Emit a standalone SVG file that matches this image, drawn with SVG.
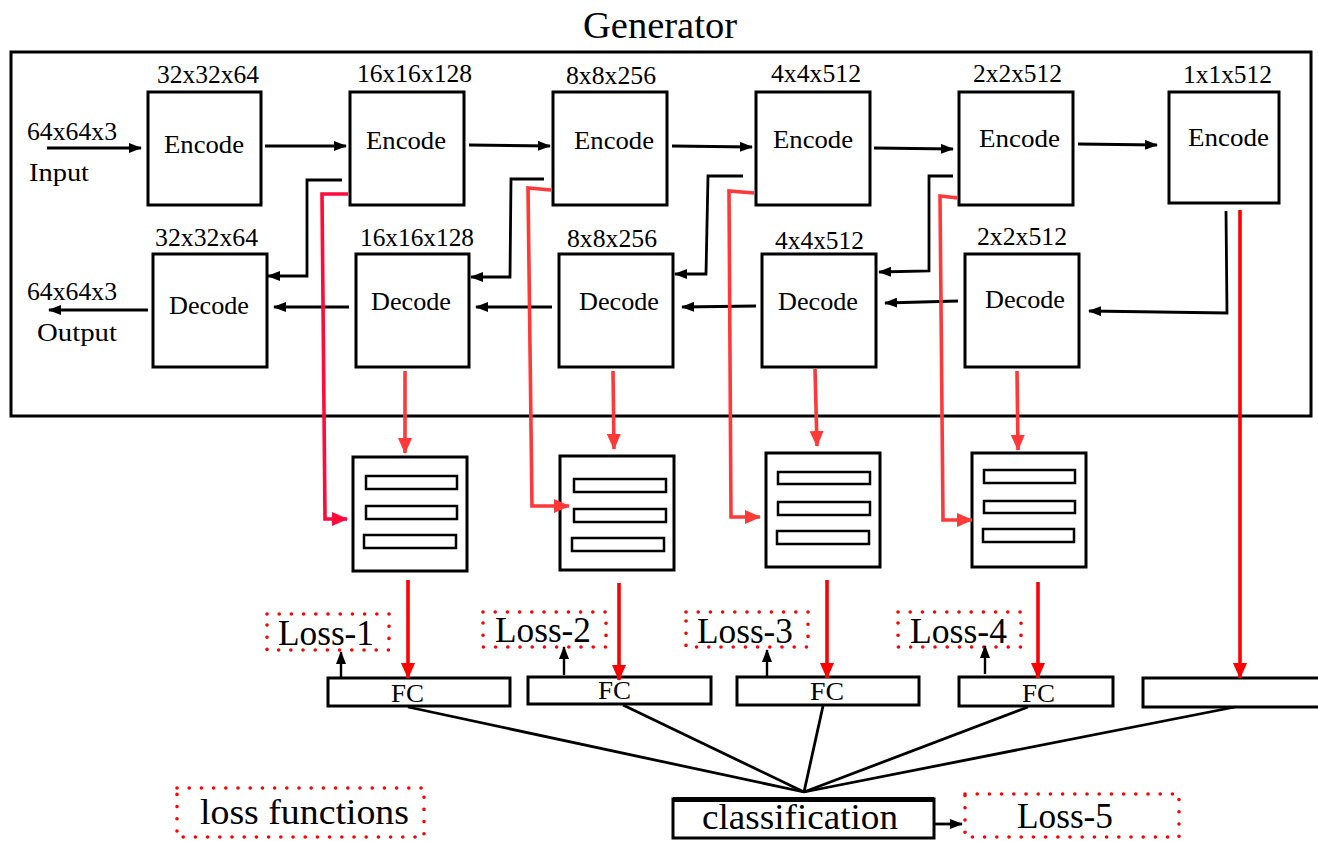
<svg xmlns="http://www.w3.org/2000/svg" width="1318" height="841" viewBox="0 0 1318 841">
<style>
text{font-family:"Liberation Serif","Times New Roman",serif;fill:#000}
.t25{font-size:25px}
.t34{font-size:35px}
.box{fill:#fff;stroke:#000;stroke-width:3}
.bar{fill:#fff;stroke:#000;stroke-width:2.5}
.dot{fill:none;stroke:#ff0000;stroke-width:3.6;stroke-dasharray:0 12.2;stroke-linecap:round}
.ln{fill:none;stroke:#000;stroke-width:2.8}
.lt{fill:none;stroke:#000;stroke-width:2.4}
.rA{fill:none;stroke:#ff0a3a;stroke-width:3.6}
.rB{fill:none;stroke:#ff3838;stroke-width:3.6}
.rC{fill:none;stroke:#ff0000;stroke-width:3.6}
</style>
<defs>
<marker id="ak" markerUnits="userSpaceOnUse" markerWidth="13" markerHeight="10" refX="12" refY="5" orient="auto"><path d="M0,0 L13,5 L0,10 z" fill="#000"/></marker>
<marker id="mA" markerUnits="userSpaceOnUse" markerWidth="16" markerHeight="14" refX="15" refY="7" orient="auto"><path d="M0,0 L16,7 L0,14 z" fill="#ff0a3a"/></marker>
<marker id="mB" markerUnits="userSpaceOnUse" markerWidth="16" markerHeight="14" refX="15" refY="7" orient="auto"><path d="M0,0 L16,7 L0,14 z" fill="#ff3838"/></marker>
<marker id="mC" markerUnits="userSpaceOnUse" markerWidth="16" markerHeight="14" refX="15" refY="7" orient="auto"><path d="M0,0 L16,7 L0,14 z" fill="#ff0000"/></marker>
</defs>
<rect width="1318" height="841" fill="#fff"/>

<g id="generator">
<text x="583" y="38" style="font-size:38px" textLength="154" lengthAdjust="spacingAndGlyphs">Generator</text>
<rect x="11" y="52" width="1300" height="364" fill="none" stroke="#000" stroke-width="3"/>
</g>

<g id="io-labels">
<text class="t25" x="27" y="140" textLength="90" lengthAdjust="spacingAndGlyphs">64x64x3</text>
<text class="t25" x="29" y="181" textLength="60" lengthAdjust="spacingAndGlyphs">Input</text>
<text class="t25" x="27" y="300" textLength="90" lengthAdjust="spacingAndGlyphs">64x64x3</text>
<text class="t25" x="37" y="341" textLength="80" lengthAdjust="spacingAndGlyphs">Output</text>
</g>

<g id="enc1"><text class="t25" x="157" y="83" textLength="102" lengthAdjust="spacingAndGlyphs">32x32x64</text><rect class="box" x="148" y="92" width="113" height="113"/><text class="t25" x="164" y="153" textLength="80" lengthAdjust="spacingAndGlyphs">Encode</text></g>
<g id="enc2"><text class="t25" x="357" y="82" textLength="115" lengthAdjust="spacingAndGlyphs">16x16x128</text><rect class="box" x="350" y="92" width="114" height="113"/><text class="t25" x="366" y="149" textLength="80" lengthAdjust="spacingAndGlyphs">Encode</text></g>
<g id="enc3"><text class="t25" x="566" y="84" textLength="90" lengthAdjust="spacingAndGlyphs">8x8x256</text><rect class="box" x="553" y="92" width="114" height="113"/><text class="t25" x="574" y="149" textLength="80" lengthAdjust="spacingAndGlyphs">Encode</text></g>
<g id="enc4"><text class="t25" x="771" y="82" textLength="90" lengthAdjust="spacingAndGlyphs">4x4x512</text><rect class="box" x="756" y="92" width="114" height="113"/><text class="t25" x="773" y="148" textLength="80" lengthAdjust="spacingAndGlyphs">Encode</text></g>
<g id="enc5"><text class="t25" x="973" y="82" textLength="89" lengthAdjust="spacingAndGlyphs">2x2x512</text><rect class="box" x="959" y="92" width="114" height="113"/><text class="t25" x="979" y="147" textLength="81" lengthAdjust="spacingAndGlyphs">Encode</text></g>
<g id="enc6"><text class="t25" x="1183" y="83" textLength="89" lengthAdjust="spacingAndGlyphs">1x1x512</text><rect class="box" x="1169" y="92" width="110" height="111"/><text class="t25" x="1188" y="146" textLength="81" lengthAdjust="spacingAndGlyphs">Encode</text></g>

<g id="dec1"><text class="t25" x="155" y="246" textLength="103" lengthAdjust="spacingAndGlyphs">32x32x64</text><rect class="box" x="153" y="254" width="114" height="113"/><text class="t25" x="169" y="314" textLength="80" lengthAdjust="spacingAndGlyphs">Decode</text></g>
<g id="dec2"><text class="t25" x="360" y="246" textLength="114" lengthAdjust="spacingAndGlyphs">16x16x128</text><rect class="box" x="356" y="254" width="113" height="113"/><text class="t25" x="371" y="310" textLength="80" lengthAdjust="spacingAndGlyphs">Decode</text></g>
<g id="dec3"><text class="t25" x="567" y="247" textLength="90" lengthAdjust="spacingAndGlyphs">8x8x256</text><rect class="box" x="559" y="254" width="114" height="113"/><text class="t25" x="579" y="310" textLength="80" lengthAdjust="spacingAndGlyphs">Decode</text></g>
<g id="dec4"><text class="t25" x="775" y="249" textLength="89" lengthAdjust="spacingAndGlyphs">4x4x512</text><rect class="box" x="762" y="254" width="114" height="113"/><text class="t25" x="778" y="310" textLength="80" lengthAdjust="spacingAndGlyphs">Decode</text></g>
<g id="dec5"><text class="t25" x="977" y="245" textLength="90" lengthAdjust="spacingAndGlyphs">2x2x512</text><rect class="box" x="965" y="254" width="114" height="113"/><text class="t25" x="985" y="308" textLength="80" lengthAdjust="spacingAndGlyphs">Decode</text></g>

<g id="fm1"><rect class="box" x="353" y="457" width="114" height="114"/><rect class="bar" x="366" y="476" width="91" height="13"/><rect class="bar" x="366" y="506" width="91" height="13"/><rect class="bar" x="364" y="535" width="92" height="13"/></g>
<g id="fm2"><rect class="box" x="560" y="456" width="114" height="114"/><rect class="bar" x="574" y="479" width="92" height="13"/><rect class="bar" x="574" y="509" width="92" height="13"/><rect class="bar" x="572" y="538" width="92" height="13"/></g>
<g id="fm3"><rect class="box" x="766" y="453" width="114" height="114"/><rect class="bar" x="778" y="472" width="92" height="12"/><rect class="bar" x="778" y="502" width="92" height="13"/><rect class="bar" x="777" y="531" width="92" height="13"/></g>
<g id="fm4"><rect class="box" x="972" y="453" width="114" height="114"/><rect class="bar" x="984" y="470" width="91" height="13"/><rect class="bar" x="984" y="501" width="91" height="12"/><rect class="bar" x="983" y="529" width="91" height="13"/></g>

<g id="fc1"><rect class="box" x="328" y="678" width="182" height="28"/><text class="t25" x="391" y="702" textLength="33" lengthAdjust="spacingAndGlyphs">FC</text></g>
<g id="fc2"><rect class="box" x="528" y="677" width="183" height="27"/><text class="t25" x="598" y="699" textLength="33" lengthAdjust="spacingAndGlyphs">FC</text></g>
<g id="fc3"><rect class="box" x="737" y="677" width="182" height="28"/><text class="t25" x="810" y="700" textLength="34" lengthAdjust="spacingAndGlyphs">FC</text></g>
<g id="fc4"><rect class="box" x="959" y="677" width="154" height="29"/><text class="t25" x="1022" y="702" textLength="33" lengthAdjust="spacingAndGlyphs">FC</text></g>
<g id="fc5"><rect class="box" x="1143" y="678" width="180" height="29"/></g>

<g id="loss1"><rect class="dot" x="267" y="614" width="122" height="36"/><text class="t34" x="278" y="645" textLength="96" lengthAdjust="spacingAndGlyphs">Loss-1</text></g>
<g id="loss2"><rect class="dot" x="483" y="612" width="123" height="35"/><text class="t34" x="495" y="642" textLength="96" lengthAdjust="spacingAndGlyphs">Loss-2</text></g>
<g id="loss3"><rect class="dot" x="686" y="612" width="122" height="35"/><text class="t34" x="697" y="643" textLength="96" lengthAdjust="spacingAndGlyphs">Loss-3</text></g>
<g id="loss4"><rect class="dot" x="898" y="612" width="123" height="35"/><text class="t34" x="910" y="643" textLength="97" lengthAdjust="spacingAndGlyphs">Loss-4</text></g>
<g id="loss-functions"><rect class="dot" x="177" y="788" width="247" height="49"/><text class="t34" x="200" y="824" textLength="209" lengthAdjust="spacingAndGlyphs">loss functions</text></g>
<g id="classification"><rect class="box" x="673" y="799" width="261" height="39"/><line x1="673" y1="799.5" x2="934" y2="799.5" stroke="#000" stroke-width="5"/><text class="t34" x="702" y="829" textLength="196" lengthAdjust="spacingAndGlyphs">classification</text></g>
<g id="loss5"><rect class="dot" x="965" y="794" width="214" height="43"/><text class="t34" x="1017" y="828" textLength="96" lengthAdjust="spacingAndGlyphs">Loss-5</text></g>

<g id="connectors">
<line class="ln" x1="47" y1="148" x2="141" y2="148" marker-end="url(#ak)"/>
<line class="ln" x1="148" y1="310" x2="49" y2="310" marker-end="url(#ak)"/>
<line class="ln" x1="265" y1="146" x2="346" y2="146" marker-end="url(#ak)"/>
<line class="ln" x1="469" y1="145" x2="550" y2="146" marker-end="url(#ak)"/>
<line class="ln" x1="672" y1="146" x2="752" y2="147" marker-end="url(#ak)"/>
<line class="ln" x1="874" y1="148" x2="953" y2="149" marker-end="url(#ak)"/>
<line class="ln" x1="1078" y1="144" x2="1157" y2="145" marker-end="url(#ak)"/>
<line class="ln" x1="349" y1="307" x2="274" y2="307" marker-end="url(#ak)"/>
<line class="ln" x1="552" y1="307" x2="476" y2="307" marker-end="url(#ak)"/>
<line class="ln" x1="756" y1="306" x2="682" y2="307" marker-end="url(#ak)"/>
<line class="ln" x1="958" y1="301" x2="885" y2="303" marker-end="url(#ak)"/>
<polyline class="ln" points="342,180 307,180 307,276 268,276" marker-end="url(#ak)"/>
<polyline class="ln" points="544,179 511,179 510,277 471,277" marker-end="url(#ak)"/>
<polyline class="ln" points="743,176 708,176 706,274 675,274" marker-end="url(#ak)"/>
<polyline class="ln" points="953,176 929,176 929,271 879,272" marker-end="url(#ak)"/>
<polyline class="ln" points="1226,211 1227,313 1089,311" marker-end="url(#ak)"/>

<polyline class="rA" points="348,194 322,194 325,519 347,519" marker-end="url(#mA)"/>
<polyline class="rB" points="551,190 528,188 532,506 569,506" marker-end="url(#mB)"/>
<polyline class="rB" points="754,193 729,191 731,517 760,517" marker-end="url(#mB)"/>
<polyline class="rB" points="958,198 940,196 943,520 972,520" marker-end="url(#mB)"/>

<line class="rB" x1="405" y1="371" x2="405" y2="453" marker-end="url(#mB)"/>
<line class="rB" x1="613" y1="371" x2="614" y2="449" marker-end="url(#mB)"/>
<line class="rB" x1="815" y1="369" x2="817" y2="446" marker-end="url(#mB)"/>
<line class="rB" x1="1017" y1="371" x2="1018" y2="450" marker-end="url(#mB)"/>

<line class="rC" x1="408" y1="580" x2="408" y2="678" marker-end="url(#mC)"/>
<line class="rC" x1="619" y1="583" x2="619" y2="680" marker-end="url(#mC)"/>
<line class="rC" x1="827" y1="580" x2="827" y2="678" marker-end="url(#mC)"/>
<line class="rC" x1="1038" y1="582" x2="1038" y2="678" marker-end="url(#mC)"/>
<line class="rC" x1="1240" y1="210" x2="1240" y2="678" marker-end="url(#mC)"/>

<line class="lt" x1="341" y1="677" x2="341" y2="652" marker-end="url(#ak)"/>
<line class="lt" x1="564" y1="675" x2="564" y2="647" marker-end="url(#ak)"/>
<line class="lt" x1="767" y1="676" x2="767" y2="650" marker-end="url(#ak)"/>
<line class="lt" x1="985" y1="674" x2="985" y2="646" marker-end="url(#ak)"/>

<line class="ln" x1="408" y1="707" x2="804" y2="792"/>
<line class="ln" x1="623" y1="705" x2="804" y2="792"/>
<line class="ln" x1="823" y1="706" x2="804" y2="792"/>
<line class="ln" x1="1028" y1="707" x2="804" y2="792"/>
<line class="ln" x1="1235" y1="707" x2="804" y2="792"/>
<line class="ln" x1="934" y1="824" x2="962" y2="824" marker-end="url(#ak)"/>
</g>
</svg>
